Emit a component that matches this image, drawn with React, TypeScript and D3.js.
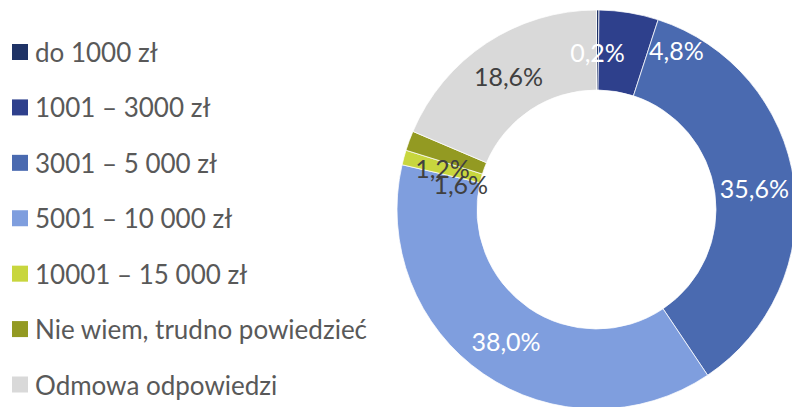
import React from "react";
import * as d3 from "d3";

const categories = [
  "do 1000 zł",
  "1001 – 3000 zł",
  "3001 – 5 000 zł",
  "5001 – 10 000 zł",
  "10001 – 15 000 zł",
  "Nie wiem, trudno powiedzieć",
  "Odmowa odpowiedzi",
];
const values = [0.2, 4.8, 35.6, 38.0, 1.2, 1.6, 18.6];
const colors = ["#1f3366", "#2e408c", "#4a6ab0", "#7f9ede", "#c8d63e", "#939a22", "#d9d9d9"];
const labelColors = ["#ffffff", "#ffffff", "#ffffff", "#ffffff", "#404040", "#404040", "#404040"];
// label nudges (Excel overlap avoidance)
const labelNudgeX = [0, 54, 0, 0, 0, 14, 0];
const labelNudgeY = [2, -2, 0, 0, 0, 29, 0];

const W = 792;
const H = 407;
const cx = 596.5;
const cy = 209.5;
const outerR = 199.5;
const innerR = 119.5;

export default function App() {
  const pie = d3.pie<number>().value((d) => d).sort(null);
  const arcs = pie(values);
  const arc = d3.arc<d3.PieArcDatum<number>>().innerRadius(innerR).outerRadius(outerR);
  const labelArc = d3
    .arc<d3.PieArcDatum<number>>()
    .innerRadius((innerR + outerR) / 2)
    .outerRadius((innerR + outerR) / 2);
  const fmt = (v: number) => v.toFixed(1).replace(".", ",") + "%";
  const legendY = d3.scaleLinear().domain([0, categories.length - 1]).range([52, 384.5]);

  return (
    <svg
      width={W}
      height={H}
      style={{ position: "absolute", left: 0, top: 0, background: "#fff" }}
      fontFamily="Lato, 'Open Sans', sans-serif"
    >
      <g transform={`translate(${cx},${cy})`}>
        {arcs.map((a, i) => (
          <path key={i} d={arc(a) || ""} fill={colors[i]} stroke="#ffffff" strokeWidth={0.75} />
        ))}
        {arcs.map((a, i) => {
          const [x, y] = labelArc.centroid(a);
          return (
            <text
              key={i}
              x={x + labelNudgeX[i]}
              y={y + labelNudgeY[i]}
              textAnchor="middle"
              dominantBaseline="central"
              fontSize={25}
              fill={labelColors[i]}
            >
              {fmt(values[i])}
            </text>
          );
        })}
      </g>
      <g>
        {categories.map((c, i) => (
          <g key={i} transform={`translate(12,${legendY(i)})`}>
            <rect x={0} y={-8} width={16} height={16} fill={colors[i]} />
            <text x={23} y={0} dominantBaseline="central" fontSize={26} fill="#595959">
              {c}
            </text>
          </g>
        ))}
      </g>
    </svg>
  );
}
